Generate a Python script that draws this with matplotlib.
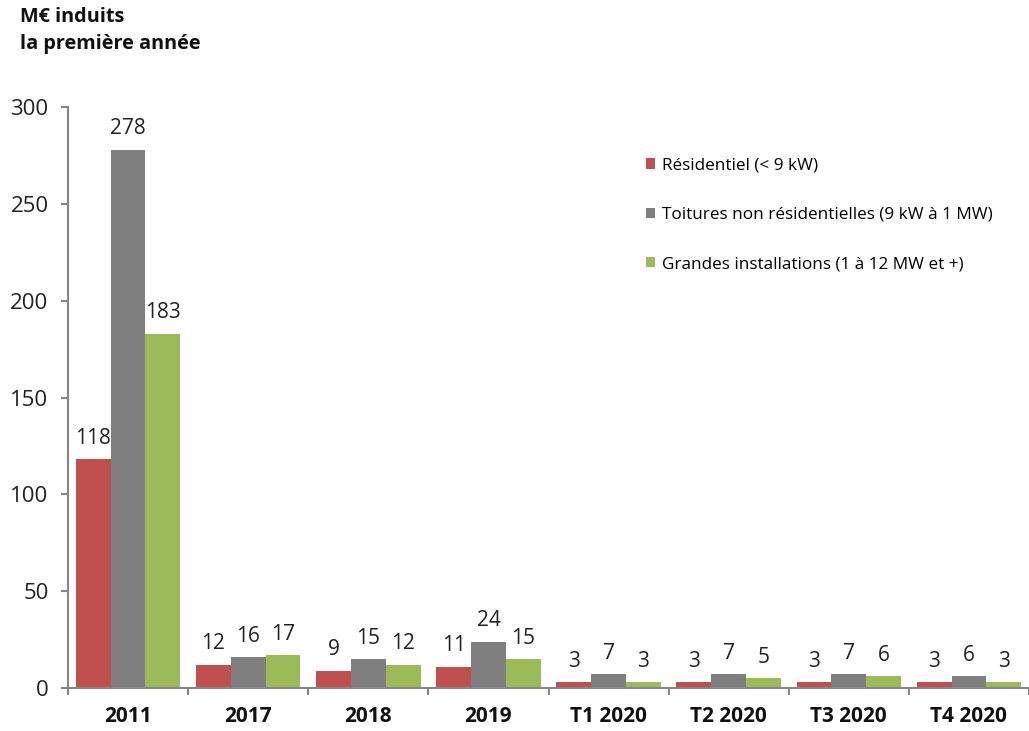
import numpy as np
import matplotlib.pyplot as plt

# Data
categories = ["2011", "2017", "2018", "2019", "T1 2020", "T2 2020", "T3 2020", "T4 2020"]
residentiel = [118, 12, 9, 11, 3, 3, 3, 3]
toitures = [278, 16, 15, 24, 7, 7, 7, 6]
grandes = [183, 17, 12, 15, 3, 5, 6, 3]

series_names = [
    "Résidentiel (< 9 kW)",
    "Toitures non résidentielles (9 kW à 1 MW)",
    "Grandes installations (1 à 12 MW et +)",
]
colors = ["#C0504D", "#7F7F7F", "#9BBB59"]

plt.rcParams["font.family"] = ["Open Sans", "DejaVu Sans"]

fig = plt.figure(figsize=(10.29, 7.31), dpi=100)
ax = fig.add_axes([68 / 1029, 1 - 688 / 731, 1 - 68 / 1029, (688 - 107) / 731])

x = np.arange(len(categories))
width = 0.29
for i, (vals, name, col) in enumerate(zip([residentiel, toitures, grandes], series_names, colors)):
    pos = x + (i - 1) * width
    ax.bar(pos, vals, width=width, color=col, label=name)
    for p, v in zip(pos, vals):
        ax.annotate(str(v), (p, v), xytext=(0, 11), textcoords="offset points",
                    ha="center", va="baseline", fontsize=15, color="#222222")

ax.set_xlim(-0.5, 7.47)
ax.set_ylim(0, 300)
ax.set_yticks(range(0, 301, 50))

# category labels at centres, tick marks at group boundaries
ax.set_xticks(x)
ax.set_xticklabels(categories, fontsize=15, fontweight="bold", color="#111111")
ax.set_xticks(np.arange(-0.5, len(categories), 1), minor=True)
ax.tick_params(axis="x", which="major", length=0, pad=13)
ax.tick_params(axis="x", which="minor", length=5, width=1.5, color="#868686", direction="out")
ax.tick_params(axis="y", length=5, width=1.5, color="#868686", labelsize=16, pad=9,
               labelcolor="#222222")

for s in ["top", "right"]:
    ax.spines[s].set_visible(False)
for s in ["left", "bottom"]:
    ax.spines[s].set_color("#868686")
    ax.spines[s].set_linewidth(1.5)

leg = ax.legend(loc="upper left", bbox_to_anchor=(0.594, 0.925), frameon=False,
                fontsize=12.3, handlelength=0.55, handleheight=0.55, handletextpad=0.4,
                labelspacing=1.95, borderaxespad=0)

fig.text(20 / 1029, 1 - 7 / 731, "M€ induits\nla première année", fontsize=14.3,
         fontweight="bold", ha="left", va="top", linespacing=1.45, color="#111111")

fig.savefig("out.png", dpi=100)
